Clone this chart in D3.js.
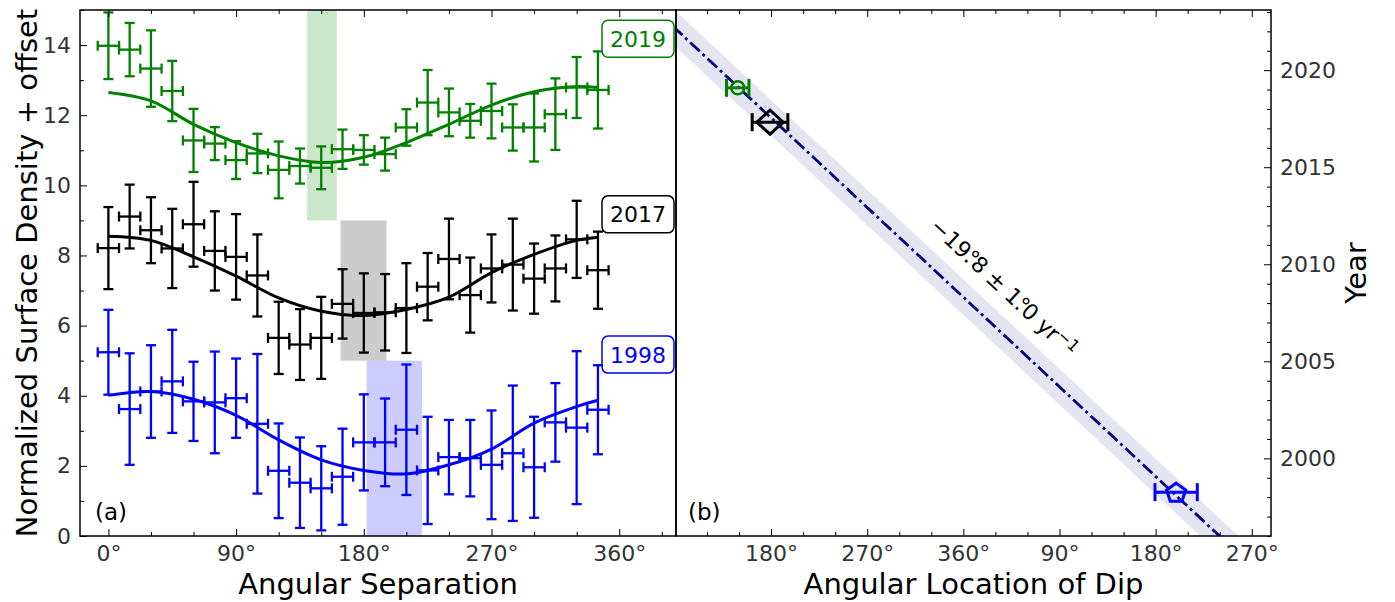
<!DOCTYPE html>
<html>
<head>
<meta charset="utf-8">
<script src="https://cdn.jsdelivr.net/npm/d3@7"></script>
<style>
  body { margin: 0; background: #fff; }
  svg { font-family: "DejaVu Sans", sans-serif; }
</style>
</head>
<body>
<svg id="chart" width="1395" height="602"></svg>
<script>
// ---- data ----
// (a) azimuthal profiles, bins of 15 deg
var sepDeg = [0, 15, 30, 45, 60, 75, 90, 105, 120, 135, 150, 165, 180, 195, 210, 225, 240, 255, 270, 285, 300, 315, 330, 345];
var dens2019 = [13.98, 13.87, 13.33, 12.69, 11.28, 11.19, 10.72, 10.91, 10.44, 10.55, 10.50, 11.03, 11.01, 10.89, 11.65, 12.36, 12.08, 11.84, 12.12, 11.65, 11.65, 12.03, 12.79, 12.72];
var err2019  = [0.95, 0.76, 1.09, 0.86, 0.90, 0.47, 0.54, 0.56, 0.81, 0.50, 0.61, 0.56, 0.42, 0.47, 0.52, 0.93, 0.68, 0.48, 0.78, 0.66, 0.97, 1.02, 0.87, 1.10];
var dens2017 = [8.21, 9.11, 8.72, 8.20, 8.89, 8.13, 7.96, 7.43, 5.65, 5.46, 5.65, 6.62, 6.36, 6.38, 6.50, 7.11, 7.90, 6.87, 7.63, 7.74, 7.34, 7.63, 8.46, 7.58];
var err2017  = [1.17, 0.91, 0.94, 1.13, 1.21, 1.13, 1.22, 1.17, 1.03, 1.01, 1.17, 0.99, 1.13, 1.09, 1.28, 0.96, 1.15, 1.07, 0.97, 1.31, 1.00, 0.94, 1.10, 1.10];
var dens1998 = [5.24, 3.62, 4.12, 4.41, 3.84, 3.81, 3.93, 3.20, 1.86, 1.52, 1.36, 1.69, 2.67, 2.67, 3.03, 1.87, 2.25, 2.22, 2.03, 2.36, 1.96, 3.24, 3.09, 3.60];
var err1998  = [1.21, 1.59, 1.32, 1.47, 1.13, 1.45, 1.13, 1.99, 1.35, 1.29, 1.20, 1.37, 1.37, 1.25, 1.86, 1.53, 1.06, 1.09, 1.55, 1.93, 1.44, 1.12, 2.18, 1.27];
var binHalf = 7.5;

// fitted curves (sampled from the figure)
var fitDeg  = [0, 30, 60, 90, 120, 150, 180, 210, 240, 270, 300, 330, 345];
var fit2019 = [12.65, 12.41, 11.74, 11.22, 10.84, 10.65, 10.80, 11.22, 11.74, 12.29, 12.67, 12.82, 12.79];
var fit2017 = [8.55, 8.43, 7.96, 7.41, 6.79, 6.41, 6.29, 6.46, 6.81, 7.51, 8.03, 8.43, 8.52];
var fit1998 = [4.01, 4.12, 3.90, 3.44, 2.74, 2.17, 1.87, 1.77, 2.03, 2.48, 3.22, 3.69, 3.87];

// dip location ranges (shaded)
var epochs   = ["2019", "2017", "1998"];
var colors   = ["green", "black", "blue"];
var bandLo   = [140, 163.6, 182];
var bandHi   = [161, 196, 221];
var bandYlo  = [9, 5, 0];
var bandYhi  = [15, 9, 5];
var labelTop = [14.71, 9.70, 5.70];

// (b) dip location vs time
var dipYear  = [2019.09, 2017.32, 1998.26];
var dipAngle = [148.8, 179.0, 559.2];
var dipErr   = [10.5, 16.7, 19.8];
var fitYear  = [2023.1, 1996.0];
var fitAngle = [71.7, 599.8];
var fitBand  = 18;

// ticks
var sepMajor = [0, 90, 180, 270, 360];
var sepMinor = [30, 60, 120, 150, 210, 240, 300, 330, 390];
var denMajor = [0, 2, 4, 6, 8, 10, 12, 14];
var denMinor = [1, 3, 5, 7, 9, 11, 13, 15];
var locMajor = [180, 270, 360, 450, 540, 630];
var locMinor = [120, 150, 210, 240, 300, 330, 390, 420, 480, 510, 570, 600];
var yrMajor  = [2000, 2005, 2010, 2015, 2020];
var yrMinor  = [1996, 1997, 1998, 1999, 2001, 2002, 2003, 2004, 2006, 2007, 2008, 2009, 2011, 2012, 2013, 2014, 2016, 2017, 2018, 2019, 2021, 2022, 2023];

// ---- layout ----
var svg = d3.select("#chart");
var L = {x0: 80, x1: 676, y0: 10, y1: 536};
var R = {x0: 676, x1: 1271, y0: 10, y1: 536};
var TICK = "#333";

var xL = d3.scaleLinear().domain([-20, 400]).range([L.x0, L.x1]);
var yL = d3.scaleLinear().domain([0, 15]).range([L.y1, L.y0]);
var xR = d3.scaleLinear().domain([91, 648]).range([R.x0, R.x1]);
var yR = d3.scaleLinear().domain([1996, 2023.1]).range([R.y1, R.y0]);

svg.append("defs").append("clipPath").attr("id", "clipR")
    .append("rect").attr("x", R.x0).attr("y", R.y0)
    .attr("width", R.x1 - R.x0).attr("height", R.y1 - R.y0);

// ---- panel (a) ----
var gA = svg.append("g");

// shaded dip ranges
epochs.forEach(function(e, i){
    gA.append("rect")
        .attr("x", xL(bandLo[i])).attr("width", xL(bandHi[i]) - xL(bandLo[i]))
        .attr("y", yL(bandYhi[i])).attr("height", yL(bandYlo[i]) - yL(bandYhi[i]))
        .attr("fill", colors[i]).attr("fill-opacity", 0.2);
});

var curve = d3.line()
    .x(function(d){ return xL(d[0]); })
    .y(function(d){ return yL(d[1]); })
    .curve(d3.curveCatmullRom);

var dens = [dens2019, dens2017, dens1998];
var errs = [err2019, err2017, err1998];
var fits = [fit2019, fit2017, fit1998];

function errorbars(g, col, pts){
    // pts: [x, y, err] in data units of panel a
    var cap = 5;
    pts.forEach(function(p){
        var cx = xL(p[0]), cy = yL(p[1]);
        var xa = xL(p[0] - binHalf), xb = xL(p[0] + binHalf);
        var ya = yL(p[1] + p[2]), yb = yL(p[1] - p[2]);
        var segs = [
            [xa, cy, xb, cy], [xa, cy - cap, xa, cy + cap], [xb, cy - cap, xb, cy + cap],
            [cx, ya, cx, yb], [cx - cap, ya, cx + cap, ya], [cx - cap, yb, cx + cap, yb]
        ];
        segs.forEach(function(s){
            g.append("line").attr("x1", s[0]).attr("y1", s[1]).attr("x2", s[2]).attr("y2", s[3])
                .attr("stroke", col).attr("stroke-width", 2.3);
        });
    });
}

// epoch label boxes (drawn under the points)
epochs.forEach(function(e, i){
    var bx = L.x1 - 74, bw = 72, bh = 37, by = yL(labelTop[i]);
    gA.append("rect").attr("x", bx).attr("y", by).attr("width", bw).attr("height", bh)
        .attr("rx", 6).attr("fill", "#fff").attr("stroke", colors[i]).attr("stroke-width", 1.5);
    gA.append("text").attr("x", bx + bw / 2).attr("y", by + bh / 2)
        .attr("dy", "0.36em").attr("text-anchor", "middle")
        .attr("font-size", 22).attr("fill", colors[i]).text(e);
});

epochs.forEach(function(e, i){
    gA.append("path")
        .datum(fitDeg.map(function(a, k){ return [a, fits[i][k]]; }))
        .attr("d", curve).attr("fill", "none")
        .attr("stroke", colors[i]).attr("stroke-width", 3);
    var g = gA.append("g");
    errorbars(g, colors[i], sepDeg.map(function(a, k){ return [a, dens[i][k], errs[i][k]]; }));
});

// ---- panel (b) ----
var gB = svg.append("g").attr("clip-path", "url(#clipR)");
var fitPts = fitYear.map(function(y, k){ return [fitAngle[k], y]; });
var bandPoly = [
    [fitPts[0][0] - fitBand, fitPts[0][1]], [fitPts[0][0] + fitBand, fitPts[0][1]],
    [fitPts[1][0] + fitBand, fitPts[1][1]], [fitPts[1][0] - fitBand, fitPts[1][1]]
];
gB.append("path")
    .attr("d", "M" + bandPoly.map(function(p){ return xR(p[0]) + "," + yR(p[1]); }).join("L") + "Z")
    .attr("fill", "#000080").attr("fill-opacity", 0.1);
gB.append("line")
    .attr("x1", xR(fitPts[0][0])).attr("y1", yR(fitPts[0][1]))
    .attr("x2", xR(fitPts[1][0])).attr("y2", yR(fitPts[1][1]))
    .attr("stroke", "#000080").attr("stroke-width", 2.8)
    .attr("stroke-dasharray", "13,4,2.8,4");

function polygon(cx, cy, r, n, rot, sx, sy){
    var pts = [];
    for (var k = 0; k < n; k++) {
        var a = rot + k * 2 * Math.PI / n;
        pts.push([cx + sx * r * Math.sin(a), cy - sy * r * Math.cos(a)]);
    }
    return "M" + pts.join("L") + "Z";
}

epochs.forEach(function(e, i){
    var cx = xR(dipAngle[i]), cy = yR(dipYear[i]);
    var xa = xR(dipAngle[i] - dipErr[i]), xb = xR(dipAngle[i] + dipErr[i]);
    var g = gB.append("g").attr("stroke", colors[i]).attr("stroke-width", 3).attr("fill", "none");
    g.append("line").attr("x1", xa).attr("y1", cy).attr("x2", xb).attr("y2", cy);
    g.append("line").attr("x1", xa).attr("y1", cy - 9).attr("x2", xa).attr("y2", cy + 9);
    g.append("line").attr("x1", xb).attr("y1", cy - 9).attr("x2", xb).attr("y2", cy + 9);
    if (i === 0) {
        g.append("circle").attr("cx", cx).attr("cy", cy).attr("r", 6.5).attr("stroke-width", 2.5);
    } else if (i === 1) {
        g.append("path").attr("d", polygon(cx, cy, 12, 4, 0, 1.1, 1)).attr("stroke-width", 3);
    } else {
        g.append("path").attr("d", polygon(cx, cy + 1, 10, 5, 0, 1, 1)).attr("stroke-width", 3);
    }
});

// rate annotation
var annA = 398, annY = 2008.8;
var ang = Math.atan2(yR(fitYear[1]) - yR(fitYear[0]), xR(fitAngle[1]) - xR(fitAngle[0])) * 180 / Math.PI;
var ann = svg.append("text")
    .attr("transform", "translate(" + xR(annA) + "," + yR(annY) + ") rotate(" + ang + ")")
    .attr("text-anchor", "middle").attr("dy", "0.35em").attr("font-size", 22).attr("fill", "#000");
ann.append("tspan").text("\u221219.");
ann.append("tspan").attr("dx", "-0.32em").text("\u00b0");
ann.append("tspan").attr("dx", "-0.1em").text("8 \u00b1 1.");
ann.append("tspan").attr("dx", "-0.32em").text("\u00b0");
ann.append("tspan").attr("dx", "-0.1em").text("0 yr");
ann.append("tspan").attr("dy", "-0.45em").attr("font-size", 16).text("\u22121");

// ---- axes ----
function degFmt(d){ var m = d % 360; return (m === 0 && d > 0 ? 360 : m) + "\u00b0"; }

function addAxis(axisFn, scale, vals, size, fmt, tx, ty){
    var ax = axisFn(scale).tickValues(vals).tickSizeInner(-size).tickSizeOuter(0).tickPadding(9);
    ax.tickFormat(fmt ? fmt : "");
    var g = svg.append("g").attr("transform", "translate(" + tx + "," + ty + ")").call(ax);
    g.select(".domain").remove();
    g.selectAll("line").attr("stroke", "#000").attr("stroke-width", 1);
    g.selectAll("text").attr("font-size", 22).attr("fill", TICK).attr("font-family", "DejaVu Sans");
    return g;
}

// panel a
addAxis(d3.axisBottom, xL, sepMajor, 7, degFmt, 0, L.y1);
addAxis(d3.axisBottom, xL, sepMinor, 4, null, 0, L.y1);
addAxis(d3.axisTop, xL, sepMajor, 7, null, 0, L.y0);
addAxis(d3.axisTop, xL, sepMinor, 4, null, 0, L.y0);
addAxis(d3.axisLeft, yL, denMajor, 7, d3.format("d"), L.x0, 0);
addAxis(d3.axisLeft, yL, denMinor, 4, null, L.x0, 0);
// panel b
addAxis(d3.axisBottom, xR, locMajor, 7, degFmt, 0, R.y1);
addAxis(d3.axisBottom, xR, locMinor, 4, null, 0, R.y1);
addAxis(d3.axisTop, xR, locMajor, 7, null, 0, R.y0);
addAxis(d3.axisTop, xR, locMinor, 4, null, 0, R.y0);
addAxis(d3.axisRight, yR, yrMajor, 7, d3.format("d"), R.x1, 0);
addAxis(d3.axisRight, yR, yrMinor, 4, null, R.x1, 0);

// frames
[L, R].forEach(function(p){
    svg.append("rect").attr("x", p.x0).attr("y", p.y0)
        .attr("width", p.x1 - p.x0).attr("height", p.y1 - p.y0)
        .attr("fill", "none").attr("stroke", "#000").attr("stroke-width", 1.5);
});

// panel letters
svg.append("text").attr("x", 95).attr("y", 520).attr("font-size", 23).text("(a)");
svg.append("text").attr("x", 688).attr("y", 520).attr("font-size", 23).text("(b)");

// axis titles
svg.append("text").attr("x", (L.x0 + L.x1) / 2).attr("y", 594).attr("text-anchor", "middle")
    .attr("font-size", 29).text("Angular Separation");
svg.append("text").attr("x", (R.x0 + R.x1) / 2).attr("y", 594).attr("text-anchor", "middle")
    .attr("font-size", 29).text("Angular Location of Dip");
svg.append("text").attr("transform", "translate(37," + (L.y0 + L.y1) / 2 + ") rotate(-90)")
    .attr("text-anchor", "middle").attr("font-size", 29).text("Normalized Surface Density + offset");
svg.append("text").attr("transform", "translate(1366," + (R.y0 + R.y1) / 2 + ") rotate(-90)")
    .attr("text-anchor", "middle").attr("font-size", 29).text("Year");
</script>
</body>
</html>
